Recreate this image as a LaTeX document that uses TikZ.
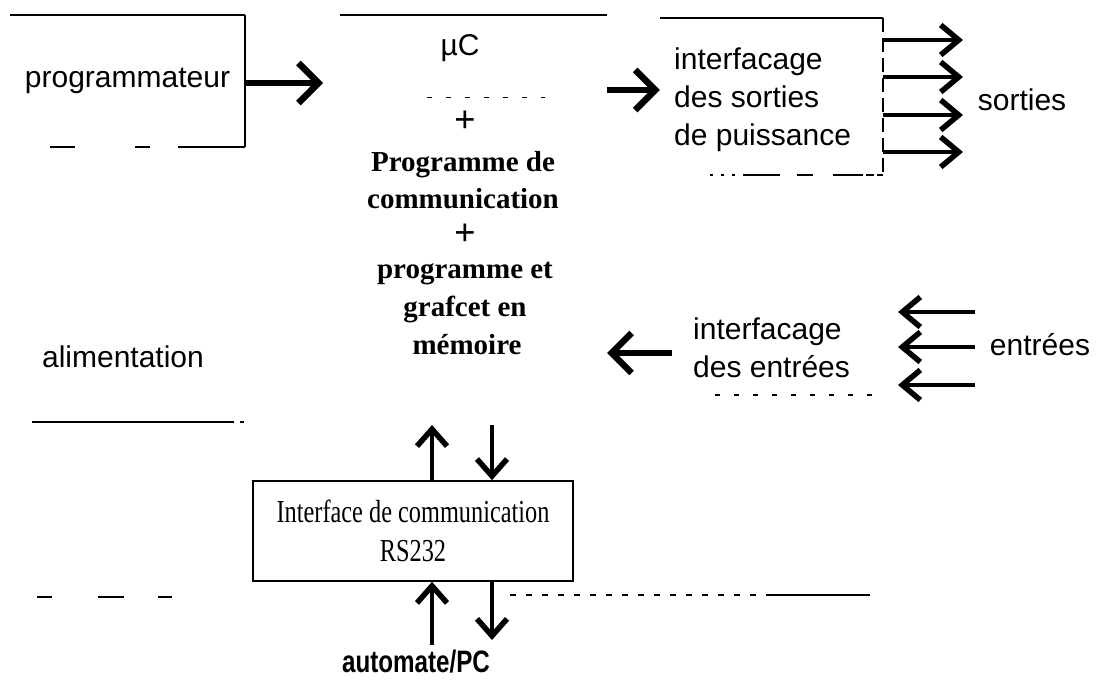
\documentclass[tikz,border=0pt]{standalone}
\usepackage{fontspec}
\setmainfont{Liberation Serif}
\setsansfont{Liberation Sans}
\newfontfamily\condserif[FakeStretch=0.76]{Liberation Serif}
\newfontfamily\condsansbold[FakeStretch=0.78]{Liberation Sans Bold}
\usetikzlibrary{arrows.meta}
\tikzset{
  sanstxt/.style={font=\sffamily\fontsize{30}{38}\selectfont, inner sep=0pt},
  seriftxt/.style={font=\bfseries\fontsize{29}{37}\selectfont, inner sep=0pt},
  plustxt/.style={font=\bfseries\fontsize{38}{38}\selectfont, inner sep=0pt},
  boxline/.style={line width=2.6pt},
  edgeline/.style={line width=2pt},
  fatarrow/.style={line width=6.5pt, -{Straight Barb[length=20pt,width=40pt]}},
  ioarrow/.style={line width=3.5pt, -{Straight Barb[length=18pt,width=30pt,line width=5.5pt]}},
  vertarrow/.style={line width=4.5pt, -{Straight Barb[length=17pt,width=30pt,line width=5.5pt]}},
  faint/.style={line width=1.3pt, dash pattern=on 5pt off 14pt}
}
\begin{document}
\begin{tikzpicture}[x=1pt,y=-1pt]
\useasboundingbox (0,0) rectangle (1097,688);
\fill[white] (0,0) rectangle (1097,688);

% programmateur block
\node[sanstxt, minimum width=235pt, minimum height=132pt] (prog) at (127.5,81) {programmateur};
\draw[boxline] (prog.north west) -- (prog.north east);
\draw[edgeline] (prog.north east) -- (prog.south east);
\draw[edgeline, dash pattern=on 25pt off 60pt on 15pt off 28pt on 67pt]
  ([xshift=40pt]prog.south west) -- (prog.south east);

% microcontroller block
\node[minimum width=267pt, minimum height=82pt, inner sep=0pt] (uc) at (473.5,56) {};
\node[sanstxt] (uclabel) at (460,48) {µC};
\draw[boxline] (uc.north west) -- (uc.north east);
\draw[faint] ([xshift=87pt]uc.south west) -- ([xshift=-62pt]uc.south east);
\node[plustxt] (plus1) at (465,122) {+};
\node[seriftxt] (mem1) at (463,165) {Programme de};
\node[seriftxt] (mem2) at (463,199) {communication};
\node[plustxt] (plus2) at (465,235) {+};
\node[seriftxt] (mem3) at (465,274) {programme et};
\node[seriftxt] (mem4) at (465,309) {grafcet en};
\node[seriftxt] (mem5) at (467,345) {mémoire};

% output interface
\node[minimum width=223pt, minimum height=157pt, inner sep=0pt] (outif) at (771.5,96.5) {};
\node[sanstxt, align=left, anchor=west] (outtxt) at (674,100) {interfacage\\des sorties\\de puissance};
\draw[boxline] (outif.north west) -- (outif.north east);
\draw[edgeline, dash pattern=on 14pt off 6pt] (outif.north east) -- (outif.south east);
\draw[edgeline, dash pattern=on 3pt off 8pt on 3pt off 8pt on 3pt off 8pt on 37pt off 17pt on 16pt off 20pt on 30pt]
  ([xshift=50pt]outif.south west) -- (outif.south east);

% sorties
\node[sanstxt] (sorties) at (1022,100) {sorties};
\coordinate (s1) at (963,40);
\coordinate (s2) at (963,77);
\coordinate (s3) at (963,115);
\coordinate (s4) at (963,152);
\foreach \i in {1,...,4} {
  \draw[ioarrow] (outif.east |- s\i) -- (s\i);
}

% alimentation
\node[sanstxt] (alim) at (123,357) {alimentation};
\coordinate (alimbl) at (32,422);
\coordinate (alimbm) at (230,422);
\coordinate (alimbr) at (246,422);
\draw[edgeline] (alimbl) -- (alimbm);
\draw[edgeline, dash pattern=on 4pt off 6pt] (alimbm) -- (alimbr);

% input interface
\node[sanstxt, align=left, anchor=west] (intxt) at (693,348) {interfacage\\des entrées};
\draw[faint] (715,395) -- (880,395);
\node[sanstxt] (entrees) at (1040,345) {entrées};
\coordinate (e1) at (975,312);
\coordinate (e2) at (975,347);
\coordinate (e3) at (975,385);
\coordinate (ei1) at (898,312);
\coordinate (ei2) at (898,347);
\coordinate (ei3) at (898,385);
\foreach \i in {1,2,3} {
  \draw[ioarrow] (e\i) -- (ei\i);
}

% communication interface
\node[draw, line width=1.6pt, minimum width=320pt, minimum height=100pt, inner sep=0pt,
      font=\condserif\fontsize{32}{39}\selectfont, align=center] (rs) at (413,531)
      {Interface de communication\\RS232};
\node[font=\condsansbold\fontsize{31}{36}\selectfont, inner sep=0pt] (pc) at (416,662) {automate/PC};

% main arrows
\coordinate (inl) at (672,353);
\coordinate (ucl) at (323,83);
\coordinate (alr) at (607,353);
\draw[fatarrow] (prog.east |- ucl) -- (ucl);
\draw[fatarrow] (uc.east |- 0,90) -- (outif.west |- 0,90);
\draw[fatarrow] (inl) -- (alr);

% vertical arrows
\coordinate (upa) at (432,425);
\coordinate (dnb) at (492,425);
\draw[vertarrow] (rs.north -| upa) -- (upa);
\draw[vertarrow] (dnb) -- (rs.north -| dnb);
\coordinate (upc) at (432,645);
\coordinate (dnd) at (492,640);
\draw[vertarrow] (upc) -- (rs.south -| upc);
\draw[vertarrow] (rs.south -| dnd) -- (dnd);

% remains of outer frame
\draw[edgeline, dash pattern=on 6pt off 10pt] (510,595) -- (770,595);
\draw[edgeline] (770,595) -- (870,595);
\draw[edgeline] (37,597) -- (52,597);
\draw[edgeline] (98,597) -- (124,597);
\draw[edgeline] (158,597) -- (172,597);
\end{tikzpicture}
\end{document}
